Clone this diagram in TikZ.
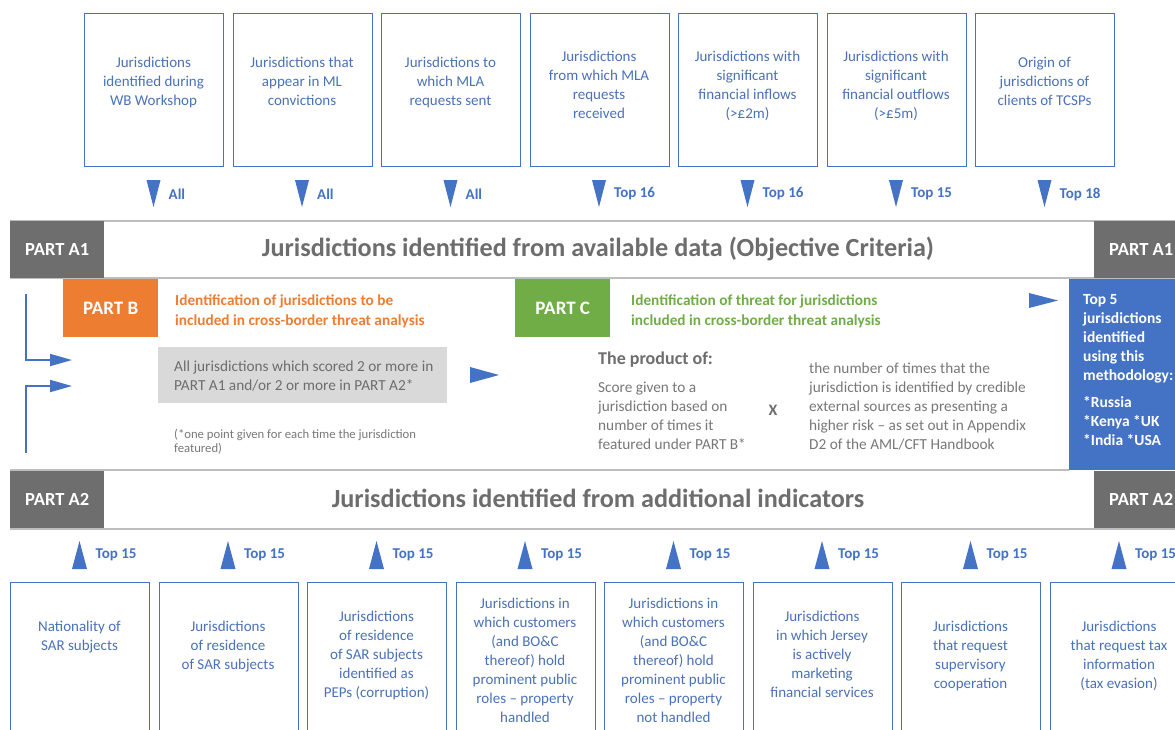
\documentclass[tikz,border=0pt]{standalone}
\usepackage{fontspec}
\setmainfont{Carlito}
\usetikzlibrary{arrows.meta}

\definecolor{mlblue}{HTML}{4472C4}
\definecolor{boxblue}{HTML}{4A72B8}
\definecolor{partgrey}{HTML}{6E6E6E}
\definecolor{headgrey}{HTML}{6D6D6D}
\definecolor{rulegrey}{HTML}{BDBDBD}
\definecolor{partorange}{HTML}{ED7D31}
\definecolor{partgreen}{HTML}{70AD47}
\definecolor{shade}{HTML}{D9D9D9}
\definecolor{bodygrey}{HTML}{787878}

\begin{document}
\begin{tikzpicture}[x=1pt, y=-1pt,
    srcbox/.style={draw=mlblue, line width=1.4pt, minimum width=139pt, minimum height=153pt, anchor=north west, inner sep=0pt},
    boxlabel/.style={text=boxblue, font=\fontsize{15}{19}\selectfont, align=center, inner sep=0pt, anchor=north},
    cue/.style={text=mlblue, font=\bfseries\fontsize{15}{18}\selectfont, anchor=west, inner sep=0pt},
    partbox/.style={fill=partgrey, text=white, font=\bfseries\fontsize{18.5}{22}\selectfont, minimum width=94pt, minimum height=57pt, anchor=north west, inner sep=0pt},
    headtext/.style={text=headgrey, font=\bfseries\fontsize{26.2}{30}\selectfont, inner sep=0pt},
    rule/.style={draw=rulegrey, line width=1.8pt},
    feed/.style={draw=mlblue, line width=1.8pt, -{Triangle[length=22pt, width=12pt]}},
]
    \useasboundingbox (0,0) rectangle (1175,729);
    \clip (0,0) rectangle (1175,729);
    \fill[white] (0,0) rectangle (1175,729);

    % Data sources for Part A1
    \foreach \i/\txt/\lab/\ty in {
        0/{Jurisdictions\\identified during\\WB Workshop}/All/63,
        1/{Jurisdictions that\\appear in ML\\convictions}/All/63,
        2/{Jurisdictions to\\which MLA\\requests sent}/All/63,
        3/{Jurisdictions\\from which MLA\\requests\\received}/Top 16/57,
        4/{Jurisdictions with\\significant\\financial inflows\\(>£2m)}/Top 16/57,
        5/{Jurisdictions with\\significant\\financial outflows\\(>£5m)}/Top 15/57,
        6/{Origin of\\jurisdictions of\\clients of TCSPs}/Top 18/63} {
        \pgfmathsetmacro{\bx}{84+148.5*\i}
        \pgfmathsetmacro{\cx}{\bx+69.5}
        \node[srcbox] (src\i) at (\bx,13) {};
        \node[boxlabel] (srctxt\i) at (\cx,{\ty-6}) {\txt};
        \fill[mlblue] (\cx-7,180) -- (\cx+7,180) -- (\cx,207) -- cycle;
        \node[cue] (srccue\i) at (\cx+15,194) {\lab};
    }

    % Part A1 band
    \draw[rule] (10,221) -- (1175,221);
    \draw[rule] (10,278) -- (1175,278);
    \node[partbox] (a1left) at (10,221) {PART A1};
    \node[partbox] (a1right) at (1094,221) {PART A1};
    \node[headtext] (a1title) at (598,249) {Jurisdictions identified from available data (Objective Criteria)};

    % Part B
    \node[fill=partorange, minimum width=95pt, minimum height=58pt, anchor=north west, inner sep=0pt,
          text=white, font=\bfseries\fontsize{19}{22}\selectfont] (partb) at (63,279) {PART B};
    \node[text=partorange, font=\bfseries\fontsize{15.3}{20}\selectfont, align=left, anchor=west, inner sep=0pt]
        (partbtxt) at (175,311) {Identification of jurisdictions to be\\included in cross-border threat analysis};
    \node[fill=shade, minimum width=289pt, minimum height=56pt, anchor=north west, inner sep=0pt] (scored) at (158,347) {};
    \node[text=headgrey, font=\fontsize{15.3}{19}\selectfont, align=left, anchor=west, inner sep=0pt]
        (scoredtxt) at (174,376) {All jurisdictions which scored 2 or more in\\PART A1 and/or 2 or more in PART A2*};
    \node[text=bodygrey, font=\fontsize{12.7}{14}\selectfont, align=left, anchor=north west, inner sep=0pt]
        (footnote) at (174,429) {(*one point given for each time the jurisdiction\\featured)};

    % feeds from A1 and A2
    \coordinate (fromA1) at (26,294);
    \coordinate (bendA1) at (26,360);
    \coordinate (intoB1) at (72,360);
    \coordinate (fromA2) at (26,453);
    \coordinate (bendA2) at (26,386);
    \coordinate (intoB2) at (72,386);
    \draw[feed] (fromA1) -- (bendA1) -- (intoB1);
    \draw[feed] (fromA2) -- (bendA2) -- (intoB2);
    \fill[mlblue] (470,367) -- (499,375) -- (470,383) -- cycle;

    % Part C
    \node[fill=partgreen, minimum width=95pt, minimum height=58pt, anchor=north west, inner sep=0pt,
          text=white, font=\bfseries\fontsize{19}{22}\selectfont] (partc) at (515,279) {PART C};
    \node[text=partgreen, font=\bfseries\fontsize{15.3}{20}\selectfont, align=left, anchor=west, inner sep=0pt]
        (partctxt) at (631,311) {Identification of threat for jurisdictions\\included in cross-border threat analysis};
    \node[text=headgrey, font=\bfseries\fontsize{18}{20}\selectfont, anchor=west, inner sep=0pt] (product) at (598,360) {The product of:};
    \node[text=bodygrey, font=\fontsize{15.3}{19}\selectfont, align=left, anchor=north west, inner sep=0pt]
        (score) at (598,382) {Score given to a\\jurisdiction based on\\number of times it\\featured under PART B*};
    \node[text=headgrey, font=\bfseries\fontsize{16}{19}\selectfont, inner sep=0pt] (times) at (773,410) {X};
    \node[text=bodygrey, font=\fontsize{15.3}{19}\selectfont, align=left, anchor=north west, inner sep=0pt]
        (sources) at (809,363) {the number of times that the\\jurisdiction is identified by credible\\external sources as presenting a\\higher risk -- as set out in Appendix\\D2 of the AML/CFT Handbook};

    % Result
    \fill[mlblue] (1029,293) -- (1058,300.5) -- (1029,308) -- cycle;
    \node[fill=mlblue, minimum width=119pt, minimum height=191pt, anchor=north west, inner sep=0pt] (result) at (1069,279) {};
    \node[text=white, font=\bfseries\fontsize{15.5}{19}\selectfont, align=left, anchor=north west, inner sep=0pt]
        (resulttxt) at (1083,294) {Top 5\\jurisdictions\\identified\\using this\\methodology:\\[8pt]*Russia\\*Kenya *UK\\*India *USA};

    % Part A2 band
    \draw[rule] (10,470) -- (1069,470);
    \draw[rule] (10,529) -- (1175,529);
    \node[partbox] (a2left) at (10,471) {PART A2};
    \node[partbox] (a2right) at (1094,471) {PART A2};
    \node[headtext] (a2title) at (598,498) {Jurisdictions identified from additional indicators};

    % Data sources for Part A2
    \foreach \i/\txt/\ty in {
        0/{Nationality of\\SAR subjects}/627,
        1/{Jurisdictions\\of residence\\of SAR subjects}/627,
        2/{Jurisdictions\\of residence\\of SAR subjects\\identified as\\PEPs (corruption)}/617,
        3/{Jurisdictions in\\which customers\\(and BO\&C\\thereof) hold\\prominent public\\roles -- property\\handled}/604,
        4/{Jurisdictions in\\which customers\\(and BO\&C\\thereof) hold\\prominent public\\roles -- property\\not handled}/604,
        5/{Jurisdictions\\in which Jersey\\is actively\\marketing\\financial services}/617,
        6/{Jurisdictions\\that request\\supervisory\\cooperation}/627,
        7/{Jurisdictions\\that request tax\\information\\(tax evasion)}/627} {
        \pgfmathsetmacro{\bx}{10+148.5*\i}
        \pgfmathsetmacro{\cx}{\bx+69.5}
        \node[srcbox, minimum height=160pt] (ind\i) at (\bx,582) {};
        \node[boxlabel] (indtxt\i) at (\cx,{\ty-6}) {\txt};
        \fill[mlblue] (\cx-7.5,569) -- (\cx+7.5,569) -- (\cx,541) -- cycle;
        \node[cue] (indcue\i) at (\cx+16,555) {Top 15};
    }
\end{tikzpicture}
\end{document}
